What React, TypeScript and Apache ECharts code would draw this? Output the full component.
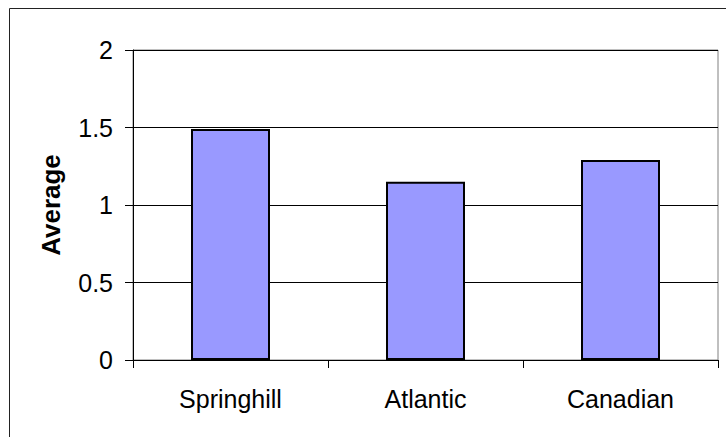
import React, { useEffect, useRef } from "react";
import * as echarts from "echarts";

const categories = ["Springhill", "Atlantic", "Canadian"];
const averages = [1.49, 1.15, 1.29];
const yTicks = { min: 0, max: 2, interval: 0.5 };
const yAxisName = "Average";

export default function App() {
  const ref = useRef<HTMLDivElement>(null);
  useEffect(() => {
    if (!ref.current) return;
    const chart = echarts.init(ref.current, null, { renderer: "svg" });
    const font = "Arial, 'Liberation Sans', sans-serif";
    chart.setOption({
      animation: false,
      backgroundColor: "#ffffff",
      textStyle: { fontFamily: font },
      graphic: [
        {
          type: "rect",
          shape: { x: 9.5, y: 8.5, width: 800, height: 600 },
          style: { fill: "none", stroke: "#222", lineWidth: 1 },
          silent: true,
        },
      ],
      grid: {
        left: 133,
        top: 50,
        width: 585,
        height: 310,
        show: true,
        borderColor: "#808080",
        borderWidth: 1,
        backgroundColor: "#ffffff",
      },
      xAxis: {
        type: "category",
        data: categories,
        axisLine: { lineStyle: { color: "#000", width: 1 } },
        axisTick: { show: true, length: 8, lineStyle: { color: "#000" } },
        axisLabel: { color: "#000", fontSize: 25, fontFamily: font, margin: 26 },
        splitLine: { show: false },
      },
      yAxis: {
        type: "value",
        min: yTicks.min,
        max: yTicks.max,
        interval: yTicks.interval,
        name: yAxisName,
        nameLocation: "middle",
        nameGap: 69,
        nameTextStyle: { color: "#000", fontSize: 26, fontWeight: "bold", fontFamily: font },
        axisLine: { show: true, lineStyle: { color: "#000", width: 1 } },
        axisTick: { show: true, length: 8, lineStyle: { color: "#000" } },
        axisLabel: { color: "#000", fontSize: 25, fontFamily: font, margin: 20 },
        splitLine: { show: true, lineStyle: { color: "#000", width: 1 } },
      },
      series: [
        {
          type: "bar",
          data: averages,
          barWidth: 79,
          itemStyle: { color: "#9999FF", borderColor: "#000", borderWidth: 2 },
        },
      ],
    });
    return () => chart.dispose();
  }, []);
  return (
    <div
      ref={ref}
      style={{ position: "absolute", left: 0, top: 0, width: 726, height: 437 }}
    />
  );
}
